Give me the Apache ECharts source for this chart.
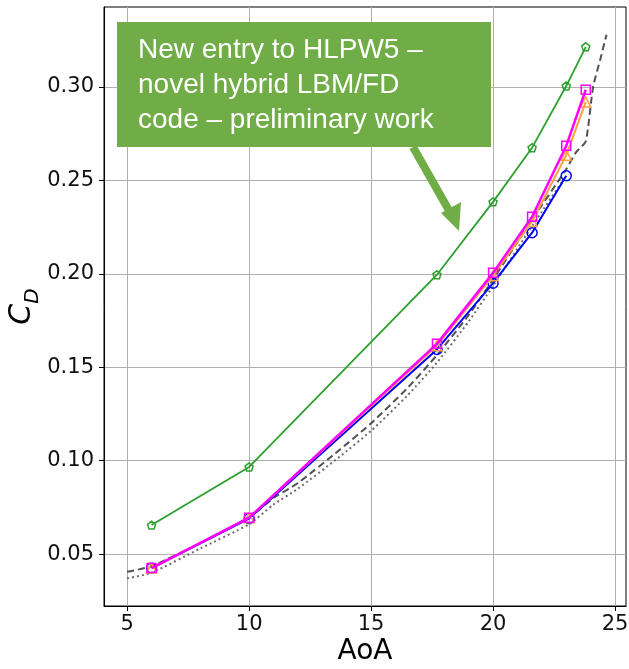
<!DOCTYPE html>
<html>
<head>
<meta charset="utf-8">
<script src="https://cdn.jsdelivr.net/npm/echarts@6/dist/echarts.min.js"></script>
<style>
  html, body { margin: 0; padding: 0; background: #fff; }
  #main { width: 629px; height: 669px; }
</style>
</head>
<body>
<div id="main"></div>
<script>
// angles of attack for the computed points
const aoa = [6, 10, 17.7, 20, 21.6, 23, 23.8]
const aoaBlue = [6, 10, 17.7, 20, 21.6, 23]
// drag coefficient per series
const cdGreen = [0.0655, 0.0966, 0.1995, 0.2385, 0.2675, 0.3005, 0.3215]
const cdMagenta = [0.0425, 0.0695, 0.1625, 0.2005, 0.2305, 0.2685, 0.2985]
const cdOrange = [0.0425, 0.0695, 0.1615, 0.199, 0.228, 0.2635, 0.292]
const cdBlue = [0.0425, 0.069, 0.1595, 0.195, 0.222, 0.2525]
// reference curves (dashed / dotted)
const refDashX = [5, 6, 8, 10, 11, 12, 13.7, 15, 16.5, 17.7, 19, 20, 21.6, 23, 23.4, 23.8, 24.1, 24.4, 24.65]
const refDashY = [0.0405, 0.0435, 0.0559, 0.0695, 0.080, 0.088, 0.1057, 0.120, 0.139, 0.1565, 0.178, 0.197, 0.229, 0.256, 0.265, 0.271, 0.30, 0.315, 0.328]
const refDotX = [5, 6, 8, 10, 11, 12, 13.7, 15, 16.5, 17.7, 19, 20, 21.6, 23]
const refDotY = [0.037, 0.040, 0.053, 0.066, 0.0765, 0.085, 0.102, 0.116, 0.135, 0.1525, 0.1745, 0.1935, 0.2255, 0.2525]
// ticks
const xTicks = [5, 10, 15, 20, 25]
const yTicks = [0.05, 0.1, 0.15, 0.2, 0.25, 0.3]

const zip = (xs, ys) => xs.map((x, i) => [x, ys[i]])

const pentagon = 'path://M0,-1 L0.951,-0.309 L0.588,0.809 L-0.588,0.809 L-0.951,-0.309 Z'
const green = '#2ca02c'
const boxGreen = '#70ad47'
const axisFont = 'DejaVu Sans'

function markerSeries(name, data, color, symbol, size, lw, z) {
  return {
    name: name,
    type: 'line',
    data: data,
    symbol: symbol,
    symbolSize: size,
    showAllSymbol: true,
    z: z,
    lineStyle: { color: color, width: lw },
    itemStyle: { color: 'rgba(0,0,0,0)', borderColor: color, borderWidth: 1.5 },
    emphasis: { disabled: true },
  }
}

const option = {
  animation: false,
  grid: {
    left: 104,
    right: 3,
    top: 7,
    bottom: 63,
    show: true,
    borderColor: '#000',
    borderWidth: 1,
    containLabel: false,
    outerBoundsMode: 'none',
  },
  xAxis: {
    type: 'value',
    min: 4.05,
    max: 25.45,
    name: 'AoA',
    nameLocation: 'middle',
    nameGap: 32,
    nameMoveOverlap: false,
    nameTextStyle: { fontFamily: axisFont, fontSize: 28, color: '#000' },
    axisLine: { show: true, onZero: false, lineStyle: { color: '#000', width: 1 } },
    axisTick: { show: true, length: 5, customValues: xTicks, lineStyle: { color: '#000' } },
    axisLabel: {
      customValues: xTicks,
      fontFamily: axisFont,
      fontSize: 21,
      color: '#111',
      margin: 8,
    },
    splitLine: { show: true, lineStyle: { color: '#b0b0b0', width: 1 } },
  },
  yAxis: {
    type: 'value',
    min: 0.0222,
    max: 0.3428,
    name: '{c|C}{d|D}',
    nameLocation: 'middle',
    nameRotate: 90,
    nameGap: 67,
    nameMoveOverlap: false,
    nameTextStyle: {
      rich: {
        c: { fontFamily: axisFont, fontSize: 30, fontStyle: 'italic', color: '#000', verticalAlign: 'bottom' },
        d: { fontFamily: axisFont, fontSize: 20, fontStyle: 'italic', color: '#000', verticalAlign: 'bottom', padding: [0, 0, -6, 0] },
      },
    },
    axisLine: { show: true, onZero: false, lineStyle: { color: '#000', width: 1 } },
    axisTick: { show: true, length: 5, customValues: yTicks, lineStyle: { color: '#000' } },
    axisLabel: {
      customValues: yTicks,
      fontFamily: axisFont,
      fontSize: 21,
      color: '#111',
      margin: 10,
      formatter: (v) => v.toFixed(2),
    },
    splitLine: { show: true, lineStyle: { color: '#b0b0b0', width: 1 } },
  },
  series: [
    {
      name: 'ref dashed',
      type: 'line',
      data: zip(refDashX, refDashY),
      symbol: 'none',
      smooth: 0.2,
      z: 2,
      lineStyle: { color: '#333', width: 2, type: [7, 4], opacity: 0.85 },
    },
    {
      name: 'ref dotted',
      type: 'line',
      data: zip(refDotX, refDotY),
      symbol: 'none',
      smooth: 0.2,
      z: 2,
      lineStyle: { color: '#555', width: 2, type: [2, 3], opacity: 0.85 },
    },
    markerSeries('green', zip(aoa, cdGreen), green, pentagon, 8, 1.8, 3),
    markerSeries('blue', zip(aoaBlue, cdBlue), '#0000ff', 'circle', 10, 2, 4),
    markerSeries('orange', zip(aoa, cdOrange), '#ff9f40', 'triangle', 10, 2, 5),
    markerSeries('magenta', zip(aoa, cdMagenta), '#ff00ff', 'rect', 9, 2.5, 6),
  ],
  graphic: [
    {
      type: 'rect',
      z: 100,
      shape: { x: 117, y: 22, width: 374, height: 125 },
      style: { fill: boxGreen },
    },
    {
      type: 'text',
      z: 101,
      x: 138,
      y: 33,
      style: {
        text: 'New entry to HLPW5 –\nnovel hybrid LBM/FD\ncode – preliminary work',
        fill: '#fff',
        fontFamily: 'Liberation Sans',
        fontSize: 28,
        lineHeight: 35,
      },
    },
    {
      type: 'line',
      z: 100,
      shape: { x1: 413, y1: 147, x2: 451, y2: 214 },
      style: { stroke: boxGreen, lineWidth: 8 },
    },
    {
      type: 'polygon',
      z: 100,
      shape: { points: [[441, 213], [461, 202], [459, 231]] },
      style: { fill: boxGreen },
    },
  ],
}

const myChart = echarts.init(document.getElementById('main'))
myChart.setOption(option)
</script>
</body>
</html>
